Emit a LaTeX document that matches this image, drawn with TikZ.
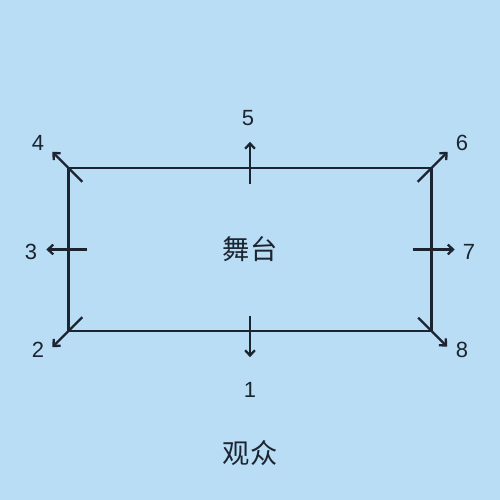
\documentclass[tikz,border=0pt]{standalone}
\usepackage{fontspec}
\setmainfont{Liberation Sans}
\newfontfamily\cjk{Noto Sans CJK SC}
\usetikzlibrary{arrows.meta}
\definecolor{skyback}{HTML}{B8DDF5}
\definecolor{inkline}{HTML}{1C2431}
\tikzset{
  stagebox/.style={draw=inkline,line width=1.4pt,minimum width=7.26cm,minimum height=3.26cm,inner sep=0pt,text=inkline,font=\cjk\fontsize{15.5}{18}\selectfont},
  dirarrow/.style={draw=inkline,line width=1.3pt,-{Straight Barb[length=3pt,width=5.5pt]}},
  numlabel/.style={text=inkline,font=\fontsize{12.5}{14}\selectfont}
}
\begin{document}
\begin{tikzpicture}
      \fill [skyback] (0,0) rectangle (10,10);
      \useasboundingbox (0,0) rectangle (10,10);
      \node [stagebox] (stage) at (5,5.01) {舞台};
      % arrows out of the stage: anchor / direction / inner / outer
      \foreach \a/\dx/\dy/\in/\out in {north west/-1/1/0.3/0.3, north/0/1/0.34/0.5, north east/1/1/0.3/0.3, east/1/0/0.4/0.44,
                                       south east/1/-1/0.29/0.29, south/0/-1/0.32/0.5, south west/-1/-1/0.3/0.3, west/-1/0/0.4/0.42}
        \draw [dirarrow] ([shift={(-\in*\dx,-\in*\dy)}]stage.\a) -- ([shift={(\out*\dx,\out*\dy)}]stage.\a);
      \node [numlabel] (n1) at (5.0,2.2) {1};
      \node [numlabel] (n2) at (0.76,3.0) {2};
      \node [numlabel] (n3) at (0.62,4.96) {3};
      \node [numlabel] (n4) at (0.76,7.14) {4};
      \node [numlabel] (n5) at (4.96,7.64) {5};
      \node [numlabel] (n6) at (9.24,7.14) {6};
      \node [numlabel] (n7) at (9.38,4.96) {7};
      \node [numlabel] (n8) at (9.24,3.0) {8};
      \node [text=inkline,font=\cjk\fontsize{15.5}{18}\selectfont] (audience) at (5,0.94) {观众};
    \end{tikzpicture}
\end{document}
